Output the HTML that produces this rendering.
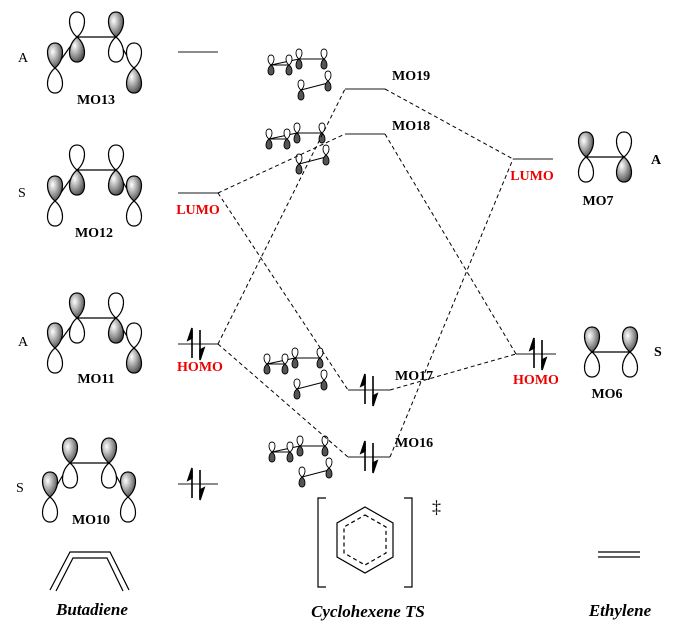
<!DOCTYPE html>
<html><head><meta charset="utf-8"><style>
html,body{margin:0;padding:0;background:#fff}
svg{display:block}
text{font-family:"Liberation Serif",serif}
.b{font-weight:bold;font-size:14px}
</style></head><body>
<svg width="676" height="643" viewBox="0 0 676 643" xmlns="http://www.w3.org/2000/svg">
<defs>
<radialGradient id="g" cx="0.35" cy="0.35" r="0.8"><stop offset="0" stop-color="#fff"/><stop offset="0.5" stop-color="#999"/><stop offset="1" stop-color="#333"/></radialGradient>
<path id="lu" d="M0,0 C-10,-8 -10,-25 0,-25 C10,-25 10,-8 0,0 Z" fill="#fff" stroke="#000" stroke-width="1.2"/>
<path id="fu" d="M0,0 C-10,-8 -10,-25 0,-25 C10,-25 10,-8 0,0 Z" fill="url(#g)" stroke="#000" stroke-width="1.2"/>
<path id="ld" d="M0,0 C-10,8 -10,25 0,25 C10,25 10,8 0,0 Z" fill="#fff" stroke="#000" stroke-width="1.2"/>
<path id="fd" d="M0,0 C-10,8 -10,25 0,25 C10,25 10,8 0,0 Z" fill="url(#g)" stroke="#000" stroke-width="1.2"/>
<path id="su" d="M0,0 C-4,-3 -4,-10 0,-10 C4,-10 4,-3 0,0 Z" fill="#fff" stroke="#000" stroke-width="0.9"/>
<path id="sd" d="M0,0 C-4,3 -4,10 0,10 C4,10 4,3 0,0 Z" fill="#555" stroke="#000" stroke-width="0.9"/>
<g id="sp"><use href="#su"/><use href="#sd"/></g>
<g id="ts" stroke="#000" stroke-width="1">
<line x1="0" y1="0" x2="28" y2="-6"/><line x1="0" y1="0" x2="17" y2="0"/><line x1="28" y1="-6" x2="53" y2="-6"/><line x1="30" y1="25" x2="57" y2="18"/>
<use href="#sp" x="0" y="0"/><use href="#sp" x="18" y="0"/><use href="#sp" x="28" y="-6"/><use href="#sp" x="53" y="-6"/><use href="#sp" x="57" y="16"/><use href="#sp" x="30" y="25"/>
</g>
<g id="pair" stroke="#000" stroke-width="1.6">
<line x1="-4" y1="-14" x2="-4" y2="14"/><path d="M-4,-16 L-8,-4 L-4,-6 Z" fill="#000"/>
<line x1="4" y1="-14" x2="4" y2="14"/><path d="M4,16 L8,4 L4,6 Z" fill="#000"/>
</g>
</defs>

<!-- Butadiene orbitals -->
<g stroke="#000" stroke-width="1.2">
<!-- MO13 -->
<line x1="55" y1="68" x2="77" y2="37"/><line x1="77" y1="37" x2="116" y2="37"/><line x1="116" y1="37" x2="134" y2="68"/>
<use href="#fu" x="55" y="68"/><use href="#ld" x="55" y="68"/>
<use href="#lu" x="77" y="37"/><use href="#fd" x="77" y="37"/>
<use href="#fu" x="116" y="37"/><use href="#ld" x="116" y="37"/>
<use href="#lu" x="134" y="68"/><use href="#fd" x="134" y="68"/>
<!-- MO12 -->
<line x1="55" y1="201" x2="77" y2="170"/><line x1="77" y1="170" x2="116" y2="170"/><line x1="116" y1="170" x2="134" y2="201"/>
<use href="#fu" x="55" y="201"/><use href="#ld" x="55" y="201"/>
<use href="#lu" x="77" y="170"/><use href="#fd" x="77" y="170"/>
<use href="#lu" x="116" y="170"/><use href="#fd" x="116" y="170"/>
<use href="#fu" x="134" y="201"/><use href="#ld" x="134" y="201"/>
<!-- MO11 -->
<line x1="55" y1="348" x2="77" y2="318"/><line x1="77" y1="318" x2="116" y2="318"/><line x1="116" y1="318" x2="134" y2="348"/>
<use href="#fu" x="55" y="348"/><use href="#ld" x="55" y="348"/>
<use href="#fu" x="77" y="318"/><use href="#ld" x="77" y="318"/>
<use href="#lu" x="116" y="318"/><use href="#fd" x="116" y="318"/>
<use href="#lu" x="134" y="348"/><use href="#fd" x="134" y="348"/>
<!-- MO10 -->
<line x1="50" y1="497" x2="70" y2="463"/><line x1="70" y1="463" x2="109" y2="463"/><line x1="109" y1="463" x2="128" y2="497"/>
<use href="#fu" x="50" y="497"/><use href="#ld" x="50" y="497"/>
<use href="#fu" x="70" y="463"/><use href="#ld" x="70" y="463"/>
<use href="#fu" x="109" y="463"/><use href="#ld" x="109" y="463"/>
<use href="#fu" x="128" y="497"/><use href="#ld" x="128" y="497"/>
<!-- Ethylene MO7 -->
<line x1="586" y1="157" x2="624" y2="157"/>
<use href="#fu" x="586" y="157"/><use href="#ld" x="586" y="157"/>
<use href="#lu" x="624" y="157"/><use href="#fd" x="624" y="157"/>
<!-- MO6 -->
<line x1="592" y1="352" x2="630" y2="352"/>
<use href="#fu" x="592" y="352"/><use href="#ld" x="592" y="352"/>
<use href="#fu" x="630" y="352"/><use href="#ld" x="630" y="352"/>
</g>

<!-- TS orbitals -->
<use href="#ts" x="271" y="65"/>
<use href="#ts" x="269" y="139"/>
<use href="#ts" x="267" y="364"/>
<use href="#ts" x="272" y="452"/>

<!-- levels -->
<g stroke="#666" stroke-width="1.6">
<line x1="178" y1="52" x2="218" y2="52"/>
<line x1="178" y1="193" x2="218" y2="193"/>
<line x1="178" y1="344" x2="218" y2="344"/>
<line x1="178" y1="484" x2="218" y2="484"/>
<line x1="345" y1="89" x2="385" y2="89"/>
<line x1="345" y1="134" x2="385" y2="134"/>
<line x1="348" y1="390" x2="390" y2="390"/>
<line x1="348" y1="457" x2="390" y2="457"/>
<line x1="513" y1="159" x2="553" y2="159"/>
<line x1="516" y1="354" x2="556" y2="354"/>
</g>
<use href="#pair" x="196" y="344"/>
<use href="#pair" x="196" y="484"/>
<use href="#pair" x="369" y="390"/>
<use href="#pair" x="369" y="457"/>
<use href="#pair" x="538" y="354"/>

<!-- dashed connectors -->
<g stroke="#000" stroke-width="1" stroke-dasharray="4,3" fill="none">
<line x1="218" y1="193" x2="345" y2="134"/>
<line x1="218" y1="193" x2="348" y2="390"/>
<line x1="218" y1="344" x2="345" y2="89"/>
<line x1="218" y1="344" x2="348" y2="457"/>
<line x1="385" y1="89" x2="513" y2="159"/>
<line x1="390" y1="457" x2="513" y2="159"/>
<line x1="385" y1="134" x2="516" y2="354"/>
<line x1="390" y1="390" x2="516" y2="354"/>
</g>

<!-- labels -->
<g font-size="14">
<text x="18" y="62">A</text><text x="18" y="197">S</text><text x="18" y="346">A</text><text x="16" y="492">S</text>
</g>
<text class="b" x="651" y="164">A</text><text class="b" x="654" y="356">S</text>
<g class="b" text-anchor="middle">
<text x="96" y="104">MO13</text><text x="94" y="237">MO12</text><text x="96" y="383">MO11</text><text x="91" y="524">MO10</text>
<text x="598" y="205">MO7</text><text x="607" y="398">MO6</text>
</g>
<g class="b">
<text x="392" y="80">MO19</text><text x="392" y="130">MO18</text><text x="395" y="380">MO17</text><text x="395" y="447">MO16</text>
</g>
<g class="b" fill="#e00" text-anchor="middle">
<text x="198" y="214">LUMO</text><text x="200" y="371">HOMO</text><text x="532" y="180">LUMO</text><text x="536" y="384">HOMO</text>
</g>

<!-- bottom structures -->
<g stroke="#000" stroke-width="1.2" fill="none">
<polyline points="50,590 70,552 110,552 129,590"/>
<polyline points="56,591 73,558 107,558 123,591"/>
<polyline points="326,498 318,498 318,587 326,587"/>
<polyline points="404,498 412,498 412,587 404,587"/>
<polygon points="365,507 393,523 393,557 365,573 337,557 337,523"/>
<polygon points="365,515 386,527 386,553 365,565 344,553 344,527" stroke-dasharray="4,3"/>
<line x1="598" y1="552" x2="640" y2="552"/><line x1="598" y1="557" x2="640" y2="557"/>
</g>
<text x="432" y="513" font-size="18">‡</text>
<g font-weight="bold" font-style="italic" font-size="17" text-anchor="middle">
<text x="92" y="615">Butadiene</text><text x="368" y="617">Cyclohexene TS</text><text x="620" y="616">Ethylene</text>
</g>
</svg>
</body></html>
